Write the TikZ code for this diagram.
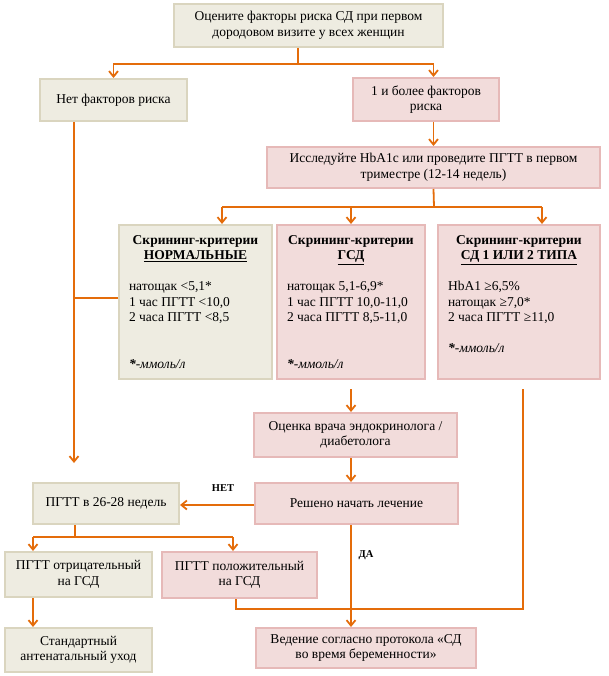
\documentclass[tikz,border=0pt]{standalone}
\usepackage{fontspec}
\setmainfont{Liberation Serif}
\usepackage{xcolor}
\usetikzlibrary{arrows.meta}

\definecolor{beigefill}{HTML}{EEECE1}
\definecolor{beigeline}{HTML}{DAD5BF}
\definecolor{pinkfill}{HTML}{F2DCDB}
\definecolor{pinkline}{HTML}{E6B9B8}
\definecolor{wirecol}{HTML}{E46C0A}

\newcommand{\boxfont}{\fontsize{13.5pt}{15.5pt}\selectfont}
\newcommand{\labfont}{\fontsize{10.5pt}{12pt}\selectfont\bfseries}

\begin{document}
\begin{tikzpicture}[x=1pt, y=-1pt, >={Straight Barb[length=5.5pt,width=9pt]},
  box/.style={rectangle, draw, line width=2pt, inner sep=0pt, align=center, font=\boxfont},
  beige/.style={box, fill=beigefill, draw=beigeline},
  pink/.style={box, fill=pinkfill, draw=pinkline},
  crit/.style={minimum height=154pt, align=flush left},
  wire/.style={draw=wirecol, line width=1.8pt},
  arr/.style={wire, ->},
  lab/.style={font=\labfont, inner sep=1pt}]
\useasboundingbox (0,0) rectangle (609,676);

% first visit
\node [beige, minimum width=269pt, minimum height=43pt] (visit) at (308.5,25.5)
  {Оцените факторы риска СД при первом\\дородовом визите у всех женщин};
\node [beige, minimum width=147pt, minimum height=42pt] (norisk) at (113.5,100) {Нет факторов риска};
\node [pink, minimum width=146pt, minimum height=43pt] (risk) at (426,99.5) {1 и более факторов\\риска};
\node [pink, minimum width=333pt, minimum height=41pt] (hba) at (433.5,167.5)
  {Исследуйте HbA1c или проведите ПГТТ в первом\\триместре (12-14 недель)};

% screening criteria
\node [beige, crit, minimum width=153pt, text width=133pt] (norm) at (195.5,302) {%
  \makebox[\linewidth]{\textbf{Скрининг-критерии}}\\
  \makebox[\linewidth]{\textbf{\underline{НОРМАЛЬНЫЕ}}}\\
  \mbox{}\\
  натощак <5,1*\\
  1 час ПГТТ <10,0\\
  2 часа ПГТТ <8,5\\
  \mbox{}\\
  \mbox{}\\
  \textit{\textbf{*}-ммоль/л}};
\node [pink, crit, minimum width=148pt, text width=128pt] (gsd) at (351,302) {%
  \makebox[\linewidth]{\textbf{Скрининг-критерии}}\\
  \makebox[\linewidth]{\textbf{\underline{ГСД}}}\\
  \mbox{}\\
  натощак 5,1-6,9*\\
  1 час ПГТТ 10,0-11,0\\
  2 часа ПГТТ 8,5-11,0\\
  \mbox{}\\
  \mbox{}\\
  \textit{\textbf{*}-ммоль/л}};
\node [pink, crit, minimum width=162pt, text width=142pt] (sd) at (519,302) {%
  \makebox[\linewidth]{\textbf{Скрининг-критерии}}\\
  \makebox[\linewidth]{\textbf{\underline{СД 1 ИЛИ 2 ТИПА}}}\\
  \mbox{}\\
  HbA1 ≥6,5\%\\
  натощак ≥7,0*\\
  2 часа ПГТТ ≥11,0\\
  \mbox{}\\
  \textit{\textbf{*}-ммоль/л}\\
  \mbox{}};

% lower part
\node [pink, minimum width=203pt, minimum height=44pt] (endo) at (355.5,435) {Оценка врача эндокринолога /\\диабетолога};
\node [pink, minimum width=203pt, minimum height=41pt] (treat) at (356.5,503.5) {Решено начать лечение};
\node [beige, minimum width=146pt, minimum height=41pt] (ogtt) at (106,503.5) {ПГТТ в 26-28 недель};
\node [beige, minimum width=147pt, minimum height=45pt] (neg) at (78.5,574.5) {ПГТТ отрицательный\\на ГСД};
\node [pink, minimum width=155pt, minimum height=46pt] (pos) at (239.5,575) {ПГТТ положительный\\на ГСД};
\node [beige, minimum width=147pt, minimum height=44pt] (std) at (78.5,650) {Стандартный\\антенатальный уход};
\node [pink, minimum width=220pt, minimum height=40pt] (proto) at (366,648) {Ведение согласно протокола «СД\\во время беременности»};

% junctions
\coordinate (split1) at (298,64);
\coordinate (split2) at (434,207);
\coordinate (nl) at (222,207);
\coordinate (nr) at (542,207);
\coordinate (leftdrop) at (74,463);
\coordinate (split3) at (75,537);
\coordinate (nneg) at (33,537);
\coordinate (npos) at (233,537);
\coordinate (joinr) at (523,609);
\coordinate (joinl) at (236,609);
\coordinate (nolevel) at (0,505);

\path [wire] (visit.south -| split1) -- (split1);
\path [arr] (split1) -| (norisk.north);
\path [arr] (split1) -| (hba.north |- risk.north);
\path [arr] (hba.north |- risk.south) -- (hba.north);

\path [wire] (hba.south) -- (split2);
\path [wire] (nl) -- (nr);
\path [arr] (nl) -- (nl |- norm.north);
\path [arr] (split2 -| gsd.north) -- (gsd.north);
\path [arr] (nr) -- (nr |- sd.north);

\path [arr] (norisk.south -| leftdrop) -- (leftdrop);
\path [wire] ([yshift=4pt]norm.west) -- ([yshift=4pt]norm.west -| leftdrop);

\path [arr, shorten <=9pt] (gsd.south) -- (gsd.south |- endo.north);
\path [arr] (gsd.south |- endo.south) -- (gsd.south |- treat.north);
\path [arr] (treat.west |- nolevel) -- node [lab, pos=0.42, yshift=17pt] {НЕТ} (ogtt.east |- nolevel);
\path [arr] (gsd.south |- treat.south) -- node [lab, pos=0.3, xshift=15pt] {ДА} (gsd.south |- proto.north);

\path [wire] (ogtt.south -| split3) -- (split3);
\path [wire] (nneg) -- (npos);
\path [arr] (nneg) -- (nneg |- neg.north);
\path [arr] (npos) -- (npos |- pos.north);
\path [arr] (nneg |- neg.south) -- (nneg |- std.north);

\path [wire, shorten <=9pt] (sd.south -| joinr) -- (joinr) -- (joinl) -- (joinl |- pos.south);
\end{tikzpicture}
\end{document}
